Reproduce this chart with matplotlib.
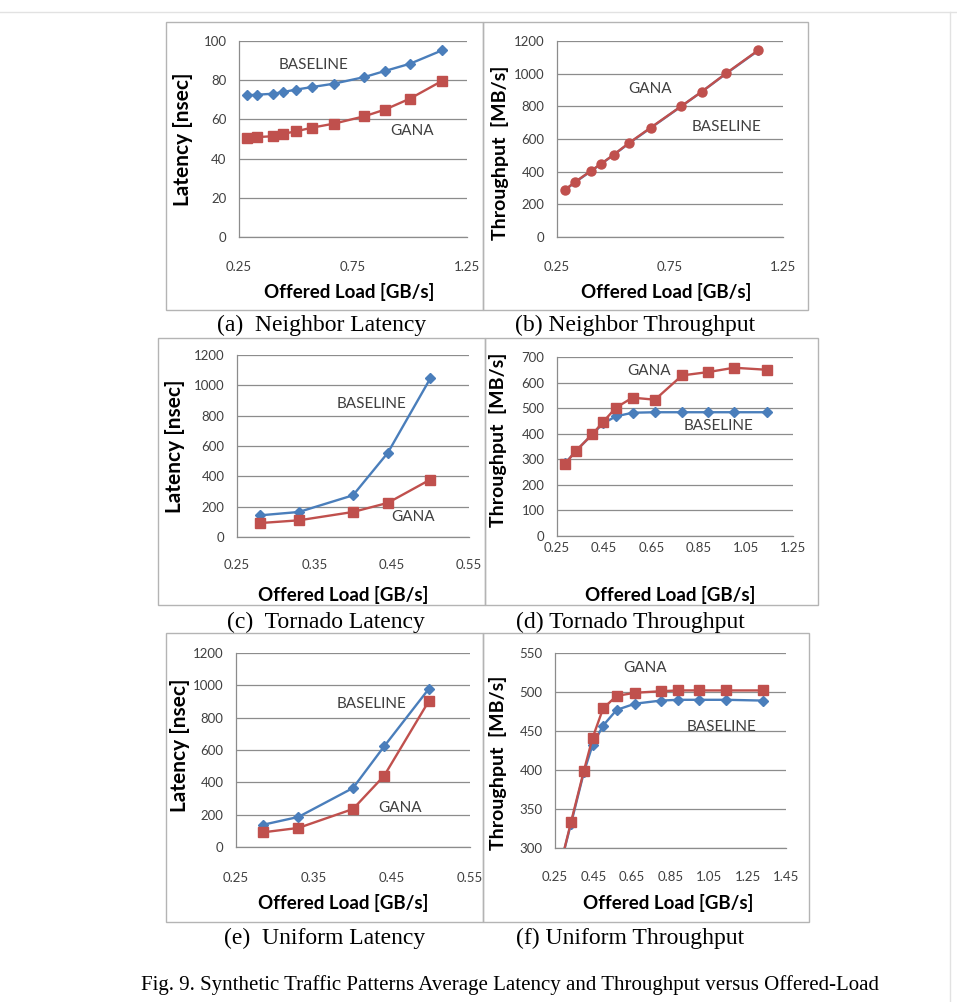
import matplotlib.pyplot as plt
from matplotlib.lines import Line2D
from matplotlib.patches import Rectangle

W, H = 957, 1002

# offered load [GB/s] for each experiment
load_neighbor = [0.285, 0.33, 0.40, 0.445, 0.50, 0.57, 0.665, 0.80, 0.89, 1.00, 1.14]
load_tornado_lat = [0.28, 0.33, 0.40, 0.445, 0.50]
load_tornado_thr = [0.285, 0.33, 0.40, 0.445, 0.50, 0.57, 0.665, 0.78, 0.89, 1.00, 1.14]
load_uniform_lat = [0.285, 0.33, 0.40, 0.44, 0.497]
load_uniform_thr = [0.285, 0.333, 0.40, 0.445, 0.50, 0.57, 0.665, 0.80, 0.89, 1.00, 1.14, 1.33]

# latency [nsec]
neighbor_lat_base = [72.3, 72.6, 73.1, 74.0, 75.2, 76.5, 78.2, 81.6, 84.7, 88.4, 95.2]
neighbor_lat_gana = [50.7, 51.0, 51.4, 52.7, 53.9, 55.8, 57.8, 61.6, 65.0, 70.6, 79.6]
tornado_lat_base = [143, 165, 275, 555, 1046]
tornado_lat_gana = [92, 110, 165, 225, 379]
uniform_lat_base = [138, 186, 365, 623, 977]
uniform_lat_gana = [91, 118, 235, 441, 901]

# throughput [MB/s]
neighbor_thr_base = [287, 335, 403, 447, 502, 575, 668, 800, 889, 1002, 1141]
neighbor_thr_gana = [289, 337, 405, 448, 503, 577, 670, 801, 889, 1004, 1143]
tornado_thr_base = [285, 332, 398, 440, 468, 482, 484, 484, 484, 484, 484]
tornado_thr_gana = [283, 333, 398, 446, 502, 541, 533, 628, 641, 658, 650]
uniform_thr_base = [285, 331, 397, 432, 457, 477, 485, 489, 490, 490, 490, 489]
uniform_thr_gana = [285, 333, 399, 441, 479, 495, 499, 501, 502, 502, 502, 502]

sub_captions = ["(a)  Neighbor Latency", "(b) Neighbor Throughput",
                "(c)  Tornado Latency", "(d) Tornado Throughput",
                "(e)  Uniform Latency", "(f) Uniform Throughput"]
fig_caption = "Fig. 9. Synthetic Traffic Patterns Average Latency and Throughput versus Offered-Load"

BLUE = "#4a7ebb"
RED = "#c0504d"
GRID = "#8c8c8c"
FRAME = "#b4b4b4"
TXT = "#404040"
CHART_FONT = "Lato"
SERIF = "Liberation Serif"

fig = plt.figure(figsize=(W / 100, H / 100), dpi=100)


def fx(x):
    return x / W


def fy(y):
    return 1 - y / H


def add_px_axes(l, t, r, b):
    return fig.add_axes([fx(l), fy(b), (r - l) / W, (b - t) / H])


def frame(l, t, r, b):
    fig.patches.append(Rectangle((fx(l), fy(b)), (r - l) / W, (b - t) / H,
                                 transform=fig.transFigure, fill=False,
                                 edgecolor=FRAME, linewidth=1.0))


def fig_text(x, y, s, **kw):
    fig.text(fx(x), fy(y), s, ha="center", va="center", **kw)


def panel(box, xlim, xticks, ylim, yticks, xpad, series, notes,
          xlabel_pos, ylabel, ylabel_pos, ylabel_size=14):
    ax = add_px_axes(*box)
    for x, y, color, marker, ms in series:
        ax.plot(x, y, color=color, lw=1.7, marker=marker, ms=ms,
                markeredgecolor=color, clip_on=True, zorder=3)
    ax.set_xlim(*xlim)
    ax.set_ylim(*ylim)
    ax.set_xticks(xticks)
    ax.set_xticklabels([f"{v:.2f}" for v in xticks])
    ax.set_yticks(yticks)
    ax.set_yticklabels([str(v) for v in yticks])
    ax.tick_params(length=0, labelsize=9.5, labelcolor=TXT)
    ax.tick_params(axis="x", pad=xpad)
    ax.tick_params(axis="y", pad=9)
    for lab in ax.get_xticklabels() + ax.get_yticklabels():
        lab.set_fontfamily(CHART_FONT)
    ax.grid(axis="y", color=GRID, lw=0.9)
    ax.set_axisbelow(True)
    for side in ("top", "right"):
        ax.spines[side].set_visible(False)
    for side in ("left", "bottom"):
        ax.spines[side].set_color(GRID)
        ax.spines[side].set_linewidth(0.9)
    for s, x, y in notes:
        ax.text(x, y, s, ha="center", va="center", fontsize=11,
                color=TXT, family=CHART_FONT)
    fig_text(*xlabel_pos, "Offered Load [GB/s]", fontsize=13.5,
             fontweight="bold", family=CHART_FONT, color="black")
    fig_text(*ylabel_pos, ylabel, fontsize=ylabel_size, fontweight="bold",
             family=CHART_FONT, color="black", rotation=90)
    return ax


# page edges
fig.add_artist(Line2D([0, 1], [fy(12), fy(12)], color="#e2e2e2", lw=1))
fig.add_artist(Line2D([fx(950), fx(950)], [0, fy(12)], color="#e2e2e2", lw=1))

# panel frames
frame(166, 22, 483, 310)
frame(483, 22, 808, 310)
frame(158, 338, 485, 605)
frame(485, 338, 818, 605)
frame(166, 633, 483, 922)
frame(483, 633, 809, 922)

# (a) neighbor latency
panel((239, 41, 467, 237), (0.25, 1.25), [0.25, 0.75, 1.25], (0, 100),
      [0, 20, 40, 60, 80, 100], 17,
      [(load_neighbor, neighbor_lat_base, BLUE, "D", 5.5),
       (load_neighbor, neighbor_lat_gana, RED, "s", 7.5)],
      [("BASELINE", 0.575, 88), ("GANA", 1.01, 54)],
      (349, 292), "Latency [nsec]", (183, 139), 15)

# (b) neighbor throughput
panel((557, 41, 783, 237), (0.25, 1.25), [0.25, 0.75, 1.25], (0, 1200),
      [0, 200, 400, 600, 800, 1000, 1200], 17,
      [(load_neighbor, neighbor_thr_base, BLUE, "D", 4),
       (load_neighbor, neighbor_thr_gana, RED, "o", 6.5)],
      [("GANA", 0.66, 906), ("BASELINE", 1.0, 673)],
      (666, 292), "Throughput  [MB/s]", (500, 153))

# (c) tornado latency
panel((237, 355, 469, 537), (0.25, 0.55), [0.25, 0.35, 0.45, 0.55], (0, 1200),
      [0, 200, 400, 600, 800, 1000, 1200], 16,
      [(load_tornado_lat, tornado_lat_base, BLUE, "D", 5.5),
       (load_tornado_lat, tornado_lat_gana, RED, "s", 7.5)],
      [("BASELINE", 0.424, 876), ("GANA", 0.478, 132)],
      (343, 595), "Latency [nsec]", (175, 446), 15)

# (d) tornado throughput
panel((557, 357, 793, 536), (0.25, 1.25), [0.25, 0.45, 0.65, 0.85, 1.05, 1.25],
      (0, 700), [0, 100, 200, 300, 400, 500, 600, 700], 4,
      [(load_tornado_thr, tornado_thr_base, BLUE, "D", 5.5),
       (load_tornado_thr, tornado_thr_gana, RED, "s", 7.5)],
      [("GANA", 0.64, 646), ("BASELINE", 0.935, 430)],
      (670, 595), "Throughput  [MB/s]", (498, 440))

# (e) uniform latency
panel((236, 653, 470, 847), (0.25, 0.55), [0.25, 0.35, 0.45, 0.55], (0, 1200),
      [0, 200, 400, 600, 800, 1000, 1200], 18,
      [(load_uniform_lat, uniform_lat_base, BLUE, "D", 5.5),
       (load_uniform_lat, uniform_lat_gana, RED, "s", 7.5)],
      [("BASELINE", 0.424, 887), ("GANA", 0.46, 241)],
      (343, 903), "Latency [nsec]", (180, 745), 15)

# (f) uniform throughput
panel((555, 653, 786, 848), (0.25, 1.45),
      [0.25, 0.45, 0.65, 0.85, 1.05, 1.25, 1.45], (300, 550),
      [300, 350, 400, 450, 500, 550], 16.5,
      [(load_uniform_thr, uniform_thr_base, BLUE, "D", 5.5),
       (load_uniform_thr, uniform_thr_gana, RED, "s", 7.5)],
      [("GANA", 0.717, 531), ("BASELINE", 1.116, 455)],
      (668, 903), "Throughput  [MB/s]", (498, 763))

# sub-figure captions and figure caption
cap_pos = [(322, 325), (635, 325), (326, 622), (630, 622), (325, 938), (630, 938)]
for s, (x, y) in zip(sub_captions, cap_pos):
    fig_text(x, y, s, fontsize=17, family=SERIF, color="black")
fig_text(510, 985, fig_caption, fontsize=15, family=SERIF, color="black")

fig.savefig("out.png", dpi=100, facecolor="white")
